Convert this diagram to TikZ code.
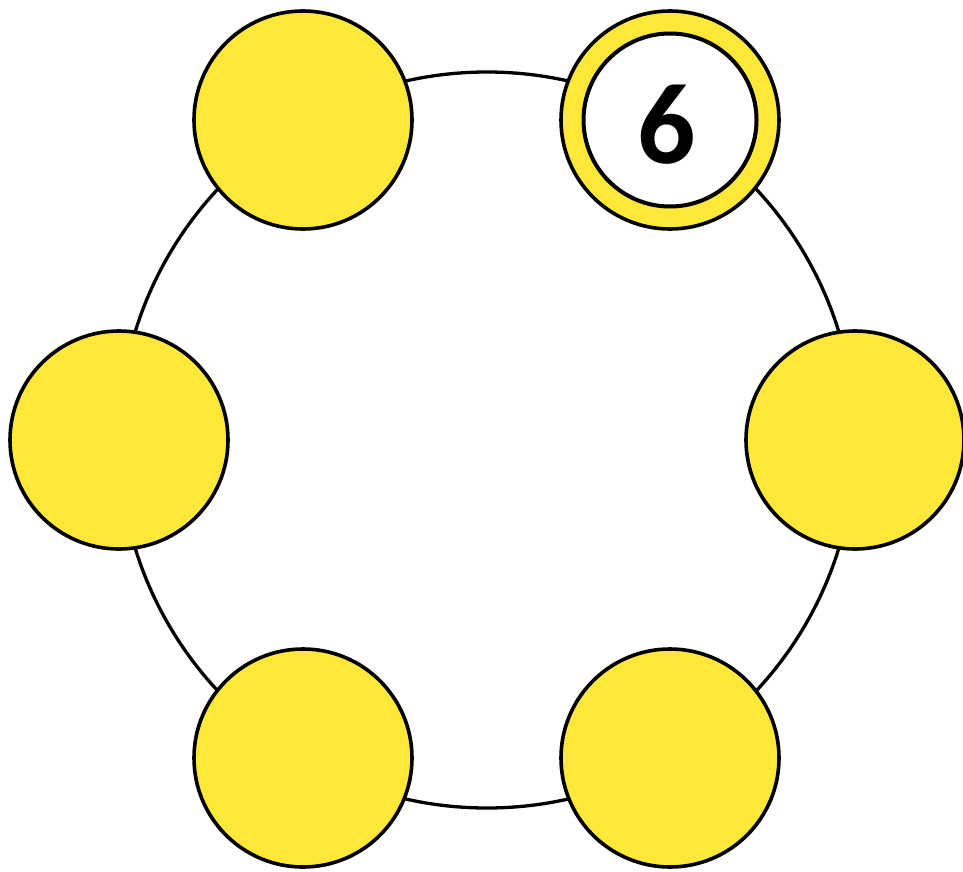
\documentclass[tikz,border=0pt]{standalone}
\usepackage{fontspec}
\newfontfamily\digitfont{Carlito}
\definecolor{ballyellow}{RGB}{255,232,56}
\begin{document}
\begin{tikzpicture}[x=1pt,y=-1pt,
  ring/.style={draw=black,line width=3.3pt},
  ball/.style={circle,draw=black,line width=3.6pt,fill=ballyellow,minimum size=218pt,inner sep=0pt},
  inner/.style={circle,draw=black,line width=4pt,fill=white,minimum size=173pt,inner sep=0pt},
  numlabel/.style={inner sep=0pt,font=\digitfont\bfseries\fontsize{115}{115}\selectfont}]
\useasboundingbox (0,0) rectangle (963,872);
\coordinate (c) at (487,440);
\draw[ring] (c) circle[radius=368];
\node[ball] (b1) at (670,120) {};
\node[ball] (b2) at (855,440) {};
\node[ball] (b3) at (670,758) {};
\node[ball] (b4) at (303,758) {};
\node[ball] (b5) at (119,440) {};
\node[ball] (b6) at (303,120) {};
\node[inner] (w1) at (b1.center) {};
\node[numlabel,anchor=base] (n6) at (667,163) {6};
\end{tikzpicture}
\end{document}
